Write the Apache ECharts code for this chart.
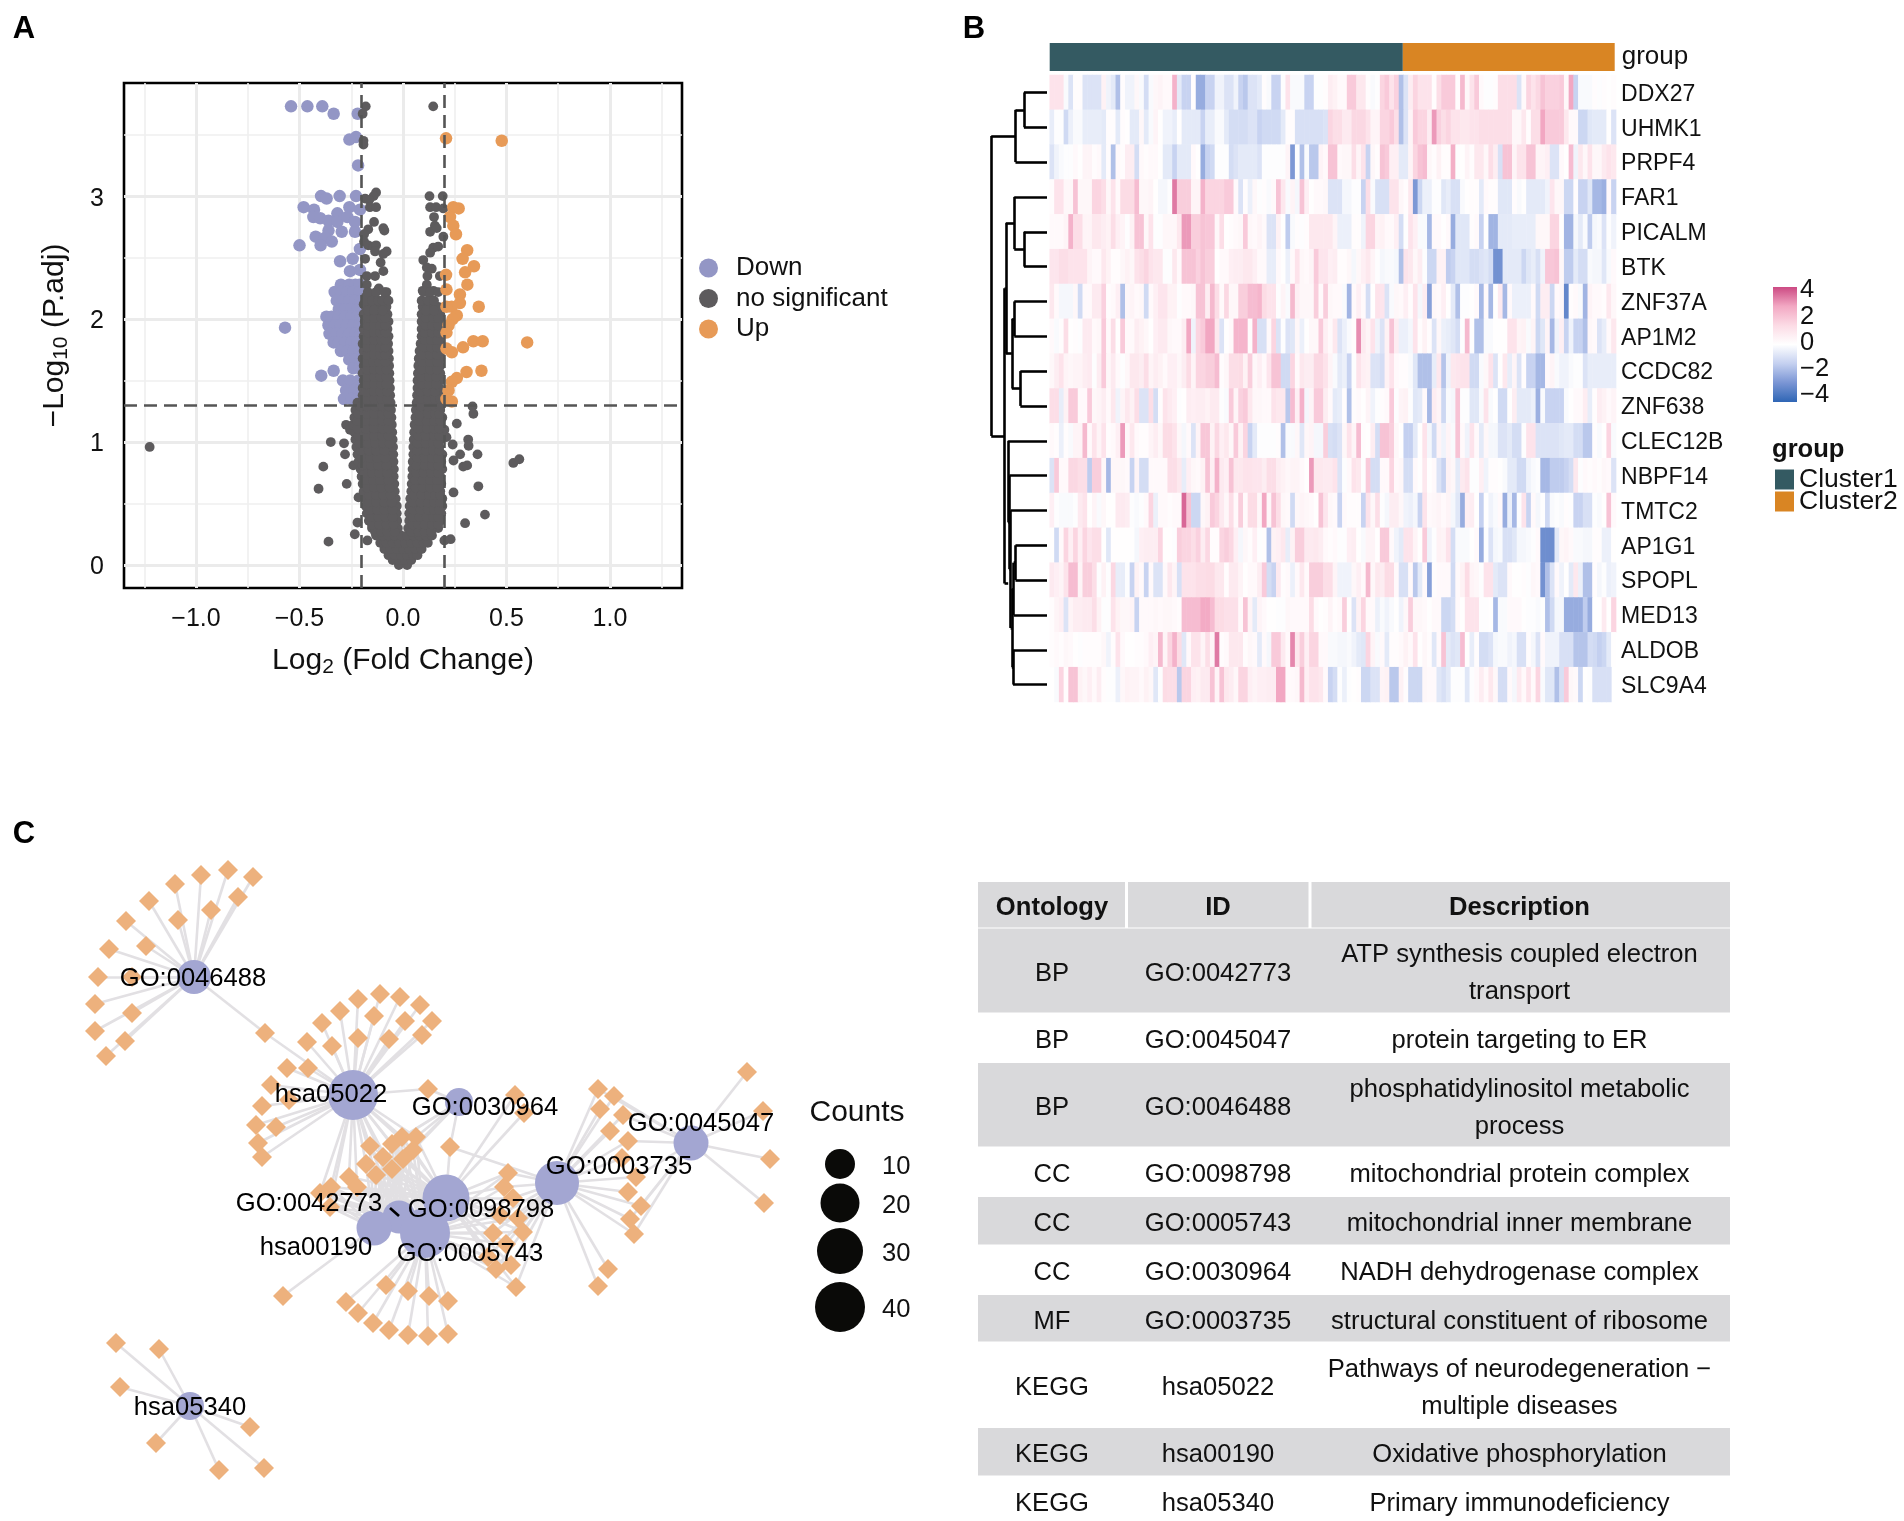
<!DOCTYPE html>
<html><head><meta charset="utf-8">
<style>html,body{margin:0;padding:0;background:#fff;overflow:hidden}#c{width:1904px;height:1521px}</style>
<script src="https://cdn.jsdelivr.net/npm/echarts@6/dist/echarts.min.js"></script>
</head><body><div id="c"></div>
<script>
// ---------- Panel A: volcano values ----------
const downPts=[[-.541,3.73],[-.462,3.73],[-.39,3.73],[-.335,3.67],[-.219,3.67],[-.227,3.48],[-.259,3.46],[-.217,3.25],[-.396,3],[-.369,2.98],[-.306,3],[-.227,3],[-.48,2.91],[-.43,2.89],[-.259,2.91],[-.208,2.89],[-.433,2.83],[-.4,2.82],[-.36,2.8],[-.317,2.86],[-.317,2.79],[-.269,2.83],[-.232,2.79],[-.296,2.71],[-.232,2.71],[-.36,2.72],[-.422,2.67],[-.377,2.66],[-.344,2.63],[-.398,2.6],[-.5,2.6],[-.208,2.57],[-.304,2.47],[-.243,2.49],[-.256,2.39],[-.208,2.4],[-.57,1.93],[-.395,1.54],[-.335,1.58],
[-.3,2.28],[-.26,2.28],[-.23,2.28],[-.21,2.28],[-.33,2.22],[-.3,2.22],[-.27,2.22],[-.24,2.22],[-.21,2.22],[-.32,2.15],[-.29,2.15],[-.26,2.15],[-.23,2.15],[-.205,2.15],[-.31,2.08],[-.28,2.08],[-.25,2.08],[-.22,2.08],[-.37,2.02],[-.345,2.02],[-.31,2.02],[-.28,2.02],[-.25,2.02],[-.22,2.02],[-.205,2.02],[-.36,1.95],[-.33,1.95],[-.3,1.95],[-.27,1.95],[-.24,1.95],[-.21,1.95],[-.355,1.88],[-.32,1.88],[-.29,1.88],[-.26,1.88],[-.23,1.88],[-.205,1.88],[-.335,1.81],[-.31,1.81],[-.28,1.81],[-.25,1.81],[-.22,1.81],[-.3,1.74],[-.27,1.74],[-.24,1.74],[-.21,1.74],[-.26,1.67],[-.23,1.67],[-.205,1.67],[-.24,1.6],[-.21,1.6],[-.29,1.5],[-.255,1.5],[-.215,1.5],[-.275,1.42],[-.235,1.42],[-.21,1.42],[-.285,1.35],[-.25,1.35],[-.22,1.35],[-.205,1.33]];
const upPts=[[.208,3.47],[.477,3.45],[.269,2.9],[.243,2.91],[.227,2.83],[.243,2.76],[.256,2.69],[.31,2.56],[.288,2.49],[.343,2.43],[.3,2.38],[.208,2.36],[.311,2.28],[.275,2.2],[.21,2.24],[.366,2.1],[.275,2.13],[.235,2.1],[.21,2.1],[.26,2.03],[.24,2],[.22,1.95],[.21,1.89],[.34,1.82],[.385,1.82],[.29,1.77],[.21,1.76],[.6,1.81],[.236,1.73],[.307,1.57],[.379,1.58],[.26,1.52],[.236,1.49],[.22,1.42],[.236,1.33],[.21,1.35]];
const graySparse=[[-.18,3.73],[.146,3.73],[-.195,3.67],[-.191,3.45],[-.191,3.42],[-.13,3.03],[-.142,3],[-.183,2.98],[-.163,2.97],[.128,3],[.192,3],[.131,2.91],[.16,2.91],[.195,2.9],[-.16,2.91],[-.13,2.91],[.15,2.83],[.154,2.76],[.131,2.71],[.163,2.74],[.195,2.67],[-.14,2.79],[-.168,2.73],[-.09,2.72],[-.095,2.74],[-.188,2.69],[-.188,2.63],[-.168,2.6],[-.143,2.59],[-.13,2.6],[-.135,2.55],[-.079,2.55],[-.095,2.53],[-.108,2.46],[-.183,2.49],[.146,2.58],[.17,2.59],[.131,2.54],[.098,2.48],[.115,2.42],[.139,2.41],[.118,2.35],[.178,2.35],[-.095,2.39],[-.135,2.35],[-.175,2.35],[-.175,2.28],[-.117,2.25],[-.08,2.22],[-.16,2.2],[-.08,2.16],[.115,2.28],[.095,2.23],[.147,2.23],[.13,2.16],[-.18,2.18],[-.14,2.15],[-.19,2.12],
[-1.224,.96],[-.275,1.14],[-.256,1.1],[-.349,1],[-.285,.99],[-.28,.9],[-.385,.8],[-.24,.81],[-.272,.66],[-.408,.62],[-.215,.55],[-.22,.345],[-.233,.25],[-.36,.19],[-.172,.2],[.336,1.29],[.34,1.23],[.26,1.15],[.2,1.1],[.21,1.04],[.24,.98],[.315,1.02],[.317,.97],[.276,.9],[.244,.85],[.36,.9],[.291,.8],[.31,.81],[.533,.83],[.562,.86],[.364,.64],[.244,.59],[.396,.41],[.3,.34],[.2,.2],[.23,.21]];
const grayRows=[
[0,[-.02,.02]],[.04,[-.05,-.02,.01,.04]],[.08,[-.07,-.04,-.01,.02,.05,.07]],[.13,[-.09,-.06,-.03,0,.03,.06,.09]],[.18,[-.11,-.08,-.05,-.02,.01,.04,.07,.1,.12]],[.24,[-.13,-.1,-.07,-.04,-.01,.02,.05,.08,.11,.14]],[.3,[-.15,-.12,-.09,-.06,-.025,.025,.06,.09,.12,.15,.17]],[.36,[-.165,-.13,-.1,-.065,-.028,.03,.065,.1,.13,.16,.18]],[.42,[-.175,-.14,-.105,-.07,-.03,.03,.065,.1,.13,.16,.185]],[.48,[-.18,-.145,-.11,-.07,-.03,.032,.07,.1,.135,.165,.19]],[.54,[-.18,-.145,-.11,-.075,-.035,.035,.07,.105,.14,.17,.19]],
[.6,[-.19,-.155,-.12,-.085,-.04,.04,.075,.11,.145,.18]],[.66,[-.195,-.16,-.125,-.09,-.042,.042,.08,.115,.15,.185]],[.72,[-.2,-.165,-.13,-.09,-.045,.045,.08,.115,.15,.18]],[.78,[-.205,-.17,-.135,-.1,-.06,-.044,.046,.085,.12,.155,.19]],[.84,[-.215,-.18,-.14,-.1,-.065,-.046,.047,.085,.12,.155,.185]],[.9,[-.22,-.185,-.145,-.105,-.07,-.047,.05,.09,.125,.16,.19]],[.96,[-.225,-.19,-.15,-.11,-.07,-.048,.05,.09,.125,.16,.175]],[1.02,[-.23,-.195,-.155,-.115,-.075,-.05,.052,.09,.13,.165,.18]],[1.08,[-.235,-.2,-.16,-.12,-.08,-.052,.054,.095,.13,.165,.185]],[1.14,[-.24,-.2,-.16,-.12,-.08,-.054,.056,.095,.13,.17,.18]],[1.2,[-.235,-.2,-.16,-.12,-.085,-.056,.06,.1,.135,.17,.19]],[1.26,[-.23,-.195,-.155,-.12,-.085,-.058,.062,.1,.135,.17,.18]],[1.32,[-.22,-.19,-.15,-.115,-.085,-.06,.066,.1,.14,.17,.19]],[1.38,[-.195,-.16,-.125,-.09,-.062,.068,.105,.14,.175]],[1.44,[-.195,-.16,-.125,-.09,-.063,.07,.105,.14,.175]],[1.5,[-.19,-.155,-.12,-.09,-.065,.07,.11,.145,.18]],[1.56,[-.195,-.16,-.125,-.095,-.066,.072,.11,.145,.18]],[1.62,[-.19,-.155,-.125,-.095,-.067,.074,.11,.15,.18]],[1.68,[-.195,-.16,-.13,-.1,-.068,.076,.115,.15,.18]],[1.74,[-.19,-.155,-.125,-.095,-.07,.08,.115,.15,.185]],[1.8,[-.195,-.16,-.125,-.095,-.072,.085,.12,.15,.18]],[1.86,[-.19,-.15,-.12,-.09,-.07,.09,.12,.155,.18]],[1.92,[-.19,-.155,-.125,-.095,-.075,.09,.125,.155,.185]],[1.98,[-.185,-.15,-.12,-.09,-.07,.09,.125,.16,.18]],[2.04,[-.19,-.16,-.125,-.09,-.075,.09,.13,.16,.18]],[2.1,[-.18,-.15,-.11,-.08,.095,.13,.17]],
[.27,[-.135,-.105,-.075,-.04,.04,.075,.105,.135]],[.33,[-.15,-.115,-.08,-.045,.045,.075,.105,.14,.17]],[.39,[-.155,-.12,-.085,-.05,.05,.08,.115,.145,.17]],[.45,[-.16,-.125,-.09,-.05,.05,.085,.12,.15,.175]],[.51,[-.165,-.13,-.09,-.055,.05,.085,.12,.15,.18]],[.57,[-.165,-.13,-.095,-.06,.055,.09,.125,.155,.18]],[.63,[-.175,-.14,-.105,-.065,.06,.095,.13,.165]],[.69,[-.18,-.145,-.11,-.07,.06,.095,.13,.165]],[.75,[-.185,-.15,-.115,-.075,.065,.1,.135,.17]],[.81,[-.195,-.155,-.12,-.08,.065,.105,.14,.17]],[.87,[-.2,-.16,-.125,-.085,.07,.105,.14,.17]],[.93,[-.205,-.165,-.13,-.09,.07,.11,.145,.175]],[.99,[-.21,-.17,-.135,-.095,-.065,.07,.11,.145,.17]],[1.05,[-.215,-.175,-.14,-.1,-.07,.075,.11,.15,.175]],[1.11,[-.22,-.18,-.14,-.1,-.07,.075,.115,.15,.175]],[1.17,[-.22,-.18,-.14,-.1,-.07,.08,.115,.15,.18]],[1.23,[-.215,-.175,-.14,-.1,-.07,.08,.12,.155,.175]],[1.29,[-.205,-.175,-.135,-.1,-.07,.085,.12,.155,.18]],[1.35,[-.19,-.175,-.14,-.105,-.075,.085,.12,.155,.18]],[1.41,[-.18,-.14,-.11,-.075,.085,.12,.155]],[1.47,[-.175,-.14,-.105,-.08,.09,.125,.16]],[1.53,[-.175,-.14,-.11,-.08,.09,.125,.16]],[1.59,[-.175,-.14,-.11,-.08,.09,.13,.165]],[1.65,[-.175,-.145,-.115,-.085,.095,.13,.165]],[1.71,[-.175,-.14,-.11,-.085,.095,.13,.165]],[1.77,[-.175,-.14,-.11,-.085,.1,.135,.165]],[1.83,[-.175,-.14,-.105,-.085,.105,.135,.165]],[1.89,[-.17,-.14,-.11,-.085,.105,.14,.17]],[1.95,[-.17,-.14,-.11,-.085,.11,.14,.17]],[2.01,[-.17,-.14,-.105,-.085,.11,.145,.17]],[2.07,[-.17,-.14,-.1,.11,.15]],[2.15,[-.18,-.15,-.12,-.1,-.07,.09,.12,.15]],[2.22,[-.17,-.13,-.09,.1,.13,.17]]];
const xMajor=[-1,-.5,0,.5,1], xMinor=[-1.25,-.75,-.25,.25,.75,1.25], yMajor=[0,1,2,3], yMinor=[.5,1.5,2.5,3.5];
const logFcCut=[-.2,.2], padjCut=1.3;

// ---------- Panel B: heatmap values ----------
const genes=['DDX27','UHMK1','PRPF4','FAR1','PICALM','BTK','ZNF37A','AP1M2','CCDC82','ZNF638','CLEC12B','NBPF14','TMTC2','AP1G1','SPOPL','MED13','ALDOB','SLC9A4'];
const DDX27=[1,1,1,-.3,-1,0,0,-1,-1,-1,-1,.4,-.5,-.8,-2,0,-.5,-.5,.2,-.3,-1.2,-.3,.2,.3,.1,.1,2.5,-.8,-1.5,-1.5,0,-2.5,-2.5,-1.5,-1.5,-.5,-.5,-1,-1,-.5,-1.5,-1.8,-1,-1,-.8,0,-.3,-1.5,-1.5,-.2,1,-.3,-.3,-.3,-1.5,-1.5,-.2,-.2,0,.6,
.4,.1,.1,1.8,1.8,.8,.8,0,-.3,-.2,1.5,1.8,1,1.6,-2,-1,.6,1.5,1,1,1,0,1.2,1.8,1.8,1.8,0,2.3,.2,1,1.8,.1,-.2,-.2,0,1.2,1.2,1.2,1.2,-1,.1,1.5,1,1.4,2,1.6,1.6,1.6,1.8,.2,2.8,-1.5,-.3,-.3,-.3,0,-.2,0,-.1,0];
const UHMK1=[-.7,-.2,-.2,-1.3,-.6,-.3,-.3,-.7,-.7,-.7,-.7,-.8,0,0,-.8,0,-.1,-.8,-.8,.2,-.8,-.3,.3,-.1,-.5,-.5,-.7,-.1,-.8,-.8,-.8,-.8,-1.5,-.7,-.7,-.3,-.3,-.8,-1.2,-1.2,-1.2,-1.2,-1,-1,-1.5,-1.3,-1.3,-1.3,-1.3,-.8,0,0,-1.1,-1.1,-1.1,-1.1,-1.1,-1.1,-1,1.5,
1.2,1.2,.7,.7,1.4,1.4,1.4,1,.3,.3,1.5,1.5,1.8,1.2,-2,-1,.3,1.8,1.5,1.5,.6,3,1.6,1.2,1.5,1,1,.8,.8,1,1,1.2,1.2,1.2,1.2,1.2,1.2,1.2,.2,.2,.8,0,1.2,1.2,2.8,1.8,1.8,1.8,1.8,.8,.1,.1,-1.4,-1.4,-.9,-.8,-.8,-.8,-.1,-1];
const PRPF4=[-1,-.5,-.3,-.2,-.2,.1,-.1,.3,.3,0,.1,-.8,0,-2,.1,0,.6,.6,-1.2,.1,0,.1,.1,-.1,-.8,-.8,-1.5,-.8,-.8,-.8,.1,-.1,-2.5,-1.5,-1.3,-.2,-.2,-.2,-1.2,-1,-.8,-.8,-.8,-.8,-1,-.2,-.2,-.2,-.2,-.2,.3,-3,-.2,-2,-.3,-1.8,-1.8,.3,.1,2,
2,.1,.2,.2,1.2,.3,1,-1.5,.2,0,2,1.8,.5,.5,-.8,-.8,.3,1.5,2,2.2,.2,0,.4,0,0,2.6,-.2,-.1,.3,0,.8,.8,.2,1.2,.6,-1.1,2,2,.3,1,1,2,2,.3,.3,.5,-1,-1,.1,-.1,2.2,-.5,.8,.2,1,.2,.2,.7,1,.8];
const FAR1=[0,1,1,.2,.2,2,.2,.2,.2,1.5,1.5,1.2,.2,1,.1,1.3,1.3,1.3,2.2,.2,.2,.3,-.1,-.4,-.4,-.2,3.5,1.7,1.7,1.7,.3,.3,2.5,1.5,1.5,1.5,1.5,1.8,1.8,.1,-1,0,-.6,.2,-.2,0,-.3,.1,2,.8,-.3,.3,-.4,2,.5,-.1,.1,.1,.2,-1,
-1,-1,-.4,-.4,-.2,-.2,-1.5,1.2,-.3,-1.1,-1.1,-1.1,1,1,.2,0,.8,-3,-1.4,-.6,-.6,-.2,-.2,-.9,-.7,-1.1,-1.1,-.3,-.1,0,0,-.8,.1,0,0,-.9,-.9,-.9,0,-.3,-.1,-.8,-.8,-.8,-.8,-.5,.9,.2,.2,-1.4,-1.4,0,-1.5,-1.5,-.9,-2.2,-2.2,-2.4,.1,-1.5];
const PICALM=[.1,.1,.1,.3,2.5,1.2,1.2,.3,.3,.8,.8,.6,.4,1.2,.5,.3,-.2,.4,2,2,.2,1,-.2,-.2,.2,.2,.2,.8,3,3,1.7,1.7,2,1.9,1.9,.2,1.2,-.1,0,.1,.2,1.8,.2,.1,.3,.1,-1,-1,.4,-.1,-1.7,-.3,0,-.2,0,.8,.8,.8,.8,.8,
.3,-.6,-.6,-.6,0,0,-.5,1.5,1.5,.3,.4,.1,.1,.5,-1.2,-.2,1,.5,-.3,-.3,-2.2,.1,.1,-.1,.1,-2.5,-.9,-.9,-.9,0,.1,-1.5,-.1,-2.3,-2.3,-.8,-.8,-.8,-.7,-.7,-.7,-.7,-.7,.2,.2,.2,1.5,1.5,-.1,-2.3,-2.3,-.4,-.8,-.3,-1.7,-.4,-.3,-1,-.2,-.5];
const BTK=[.9,.9,1.2,1.2,1,1,1,1,.3,.1,.1,.8,.4,0,0,.2,.4,.2,1,1.2,1.5,1,.8,.8,-.2,-.2,.8,.1,2,2,2,1.6,2,1.7,1.7,-.1,.1,.1,.5,.6,.6,.8,.8,.5,.1,.1,-.7,-.7,.1,-.1,-.6,.1,1,.2,.1,.3,1.8,.9,.9,.5,
.6,0,0,.2,-.4,.2,.5,.8,.3,-.2,-.4,-.3,-.3,-.4,-2,1,.8,.2,.6,-.2,-1.4,-1.4,.4,.4,-1.7,-1.5,-.9,-.9,-.9,-1.2,-1.2,-1,-.9,-1.2,-3.2,-3.2,-.8,-.8,-.8,-.8,-1.4,-.9,-.7,-1.1,-.5,1.9,1.9,2,.2,-1.7,-1.7,-.8,-1.2,-1.2,-.3,-.4,-.4,-.9,-.3,.1];
const ZNF37A=[.8,.1,-.4,-.4,-.4,.2,-1.3,.1,.1,.7,.7,1.6,0,.1,.5,-2,.2,.3,.1,.2,-1.3,.1,.5,.9,.9,.4,.4,-.2,.1,.1,.2,2,2,.6,2.3,1.2,.1,1.4,.2,.2,1.7,1.7,2.2,2.2,2.4,1.3,1,1,-.2,.3,-.3,2.3,.5,.2,.2,.2,1.7,.1,1.7,.2,
.1,.1,-.3,-2.3,.1,.5,.1,-1.2,-.1,1,.9,-1,-.3,.2,.1,.5,0,1,-.4,.6,-2.8,.2,.1,.5,-.1,-.8,-2,-.2,-.2,-.1,.1,-2.2,.1,-2.2,-.1,.7,-2.2,.1,-.6,-.6,-.6,-.6,.1,-1.3,.6,.6,-1.4,.1,.2,-3.5,0,.1,-.3,-2.3,.3,.1,.1,0,.8,.2];
const AP1M2=[.1,-.3,0,1.2,-.1,0,-.2,.7,.7,.1,.2,1.8,.1,1.2,-.1,1.8,.1,.1,.6,.4,.2,-.1,.5,.7,.7,.2,.1,.1,.6,2.8,-.5,1.5,1.8,2.8,2.8,.8,-1,-.1,.1,2.4,2.4,2.4,0,2.5,-1.1,-1.1,.1,1.5,-1,-.2,-1,-.9,.2,-.6,-.1,.2,.2,1.8,.5,.1,
.8,-1,-.6,-.3,0,3.2,.7,.3,1,-.5,-1,.4,2,.6,-.6,-.6,-.4,1,0,.4,0,-1,.2,-.6,-.7,-.9,-1.2,-.2,2.3,-.2,-2,-2,-.3,-.3,-.1,-.1,-.1,1,1,.3,.4,-.3,.3,-1.4,-.9,.3,-2.2,-.5,.5,-1.5,-.5,-1.5,-1.5,-2,.2,.1,-1,-.7,.1,.8];
const CCDC82=[.2,.6,1,.3,.2,.3,.3,.6,.7,-.2,.6,1.8,.2,.7,.1,-.2,.2,.8,.8,.6,1.2,.3,.6,.4,.1,.5,.5,.2,.6,1.3,.3,1.5,1.5,1.7,1.7,2.2,0,.2,1.2,1.2,1.3,.4,1.7,.2,.5,.1,.9,2,2,-1.3,-1.3,1.5,.1,.8,.6,.6,1.4,1.4,1,.3,
-.3,-.8,-.6,-1.5,-.2,1,.5,.4,-1,-1,-1.2,.4,1,.1,0,0,-.3,-.9,-2,-2,-2,-.7,.8,-1.9,-.5,.8,.9,1,1,-1.3,-1.3,-.3,.2,1,-1,-.1,.8,-.7,.3,-1,0,-1.5,-1.5,-2.2,-2.2,.1,.3,-.3,-.5,-.5,-.3,-.2,-.2,-1,-.7,-.7,-.7,-.7,-.7,-.7];
const ZNF638=[1.2,1.2,-.7,.4,1.8,1.8,.1,.1,1.8,.2,.3,.6,.1,.8,-.5,.3,.8,.4,1.2,-1,-1,1.2,-1.2,0,1,.7,.5,-.2,-.1,.6,.5,.6,.6,.4,.7,.7,-.2,-.3,1.8,.3,1.6,1.8,.8,.2,.2,.1,.1,1,.8,.8,-1.8,2.2,.5,2.5,-.4,.3,1.8,1.8,.6,.1,
-.8,-.7,0,-2,0,.1,-.1,.3,-.5,-.2,0,.1,1.8,-.2,.3,.4,-.2,-.9,-.8,.1,-2.2,.6,.3,-1.4,-.3,-.4,2,-.2,-.2,-.9,-.9,-.3,1,-.3,-.1,-1.3,-1.3,-.1,.6,-.8,-.8,-.8,-.6,-2.4,-.3,-1.5,-1.5,-1.5,-1.5,-.3,-.1,.1,.1,.6,-.7,0,.6,.4,.1,.3];
const CLEC12B=[.1,0,-.6,0,-.3,.3,.3,2.3,.1,1,.3,1,0,.1,.5,3,.2,.8,.1,0,0,.3,.6,.2,1.3,1.3,1,.2,-.4,.1,-1,.3,1.9,1.9,.4,1.4,.5,.8,.2,1.8,.4,1.5,-1.5,-.8,-.2,-.2,-.2,-.2,0,-2,-.3,-.3,.2,-.9,.2,.3,-.4,-.4,1.7,-1.1,
-1.2,-1,.2,1,.3,2.2,0,-.1,.6,-1.2,2,2,1.7,.2,-.1,-1.6,-1.6,-.8,-.1,1,-.4,-1.3,.3,-.5,.3,-.3,2,.1,-.5,1,.1,-.8,.2,-.4,-.4,-1,-1,-.8,-1.2,-1.2,-.2,1,1,-1,-1,-1,-1,-1,-.9,-.8,-.8,-1.2,-1.2,-1.8,-1.8,0,-.3,-.1,1.5,-.3];
const NBPF14=[-1,1.8,.1,.1,1.4,1.4,1.2,1.2,-1.7,1.7,1.7,.2,-2.2,.2,.2,.2,.1,-1.5,.3,-1.2,-1.2,.1,.1,.1,.1,1.2,1.2,.8,-.7,.5,.2,.1,.4,2,.5,2.5,.7,.5,2,.8,.8,1,1,.9,.9,.6,1.2,1.2,.6,.4,.2,.3,.3,.1,-.1,3,.8,.8,.7,.7,
1,-1,-.2,.1,1,.8,-.2,1.8,-1.2,-1.2,.1,.1,1.5,.1,.2,-1.2,-1.2,.1,-.1,.8,-.1,.1,-1,-1.5,.4,.2,-.8,.7,1,-.2,-.2,.5,-.5,0,0,-.1,-.3,-.8,-.8,-1.3,-1.3,-.5,-.3,-.2,-2.2,-2.2,-1.7,-1.7,-1.7,-1.5,-1.2,.8,-.2,.1,0,.1,0,.2,.1,-1];
const TMTC2=[.5,-.2,-.3,-.3,-.3,-.2,.7,1,-.1,.3,-.3,.2,-.1,-.1,.7,.7,.6,-.2,-.3,-.2,.1,1.5,-.6,.1,.1,0,.1,.1,3.8,2,-1.4,-1.4,.2,.4,1.8,1.5,.7,.2,1.2,.1,1.7,.1,1.3,1.3,.2,2.8,.2,2,1.2,.2,.1,-1.3,.2,.3,.2,.1,-.1,2,.9,.2,
.1,-1.5,.1,0,0,0,-1.5,1,.2,1.2,-.2,-.4,.6,.6,.2,-.5,-.6,-.4,-1.5,1,.1,.2,.3,.1,.3,-.4,-.9,-2.5,.5,.6,-.1,-1.6,-.1,-.5,-.3,.1,-2.5,-.6,-2.2,-.2,1,-1.5,.1,-.4,-.2,-1.3,-.3,-.2,-.3,0,-.2,-1.5,-1.5,-1.1,-1.1,-.2,-.3,-.1,2,.1];
const AP1G1=[-.1,-1.3,.1,1.5,.5,1.5,.5,1.5,.9,1.2,1.2,-.1,-.9,-.1,-.1,-.1,-.1,-.1,-.4,.5,.6,.6,.6,1.5,-.1,-.1,-.2,1.7,1.5,1.5,1.2,1.6,.6,1.4,0,0,1.5,1.7,1.4,.5,-.4,.2,0,.5,-.2,0,-2,.4,.5,.8,-.7,.4,1.7,1.7,.7,.7,.8,.6,.1,0,
.1,-.2,-.2,.5,.6,-.1,-.3,.3,.3,-.1,1.8,1.8,.1,-.5,-.8,1,1,.3,-.1,1.8,-.5,-.2,.4,.3,1,-1.2,-.3,-.3,-.3,-.1,.1,-2.5,-.2,-1,-.4,-.3,-1.1,-1.1,-.9,-.4,-.4,-.3,-.2,.1,-3.3,-3.3,-3.3,-.8,.2,.3,.1,-.3,-.3,-.4,-.4,0,0,-.6,-.6,-.1];
const SPOPL=[.7,.5,.3,1,2.2,2.2,.3,1.7,1.7,1.2,-.2,.4,-.2,1.4,-.7,-.7,-.2,-1.5,.4,.1,-1.5,.1,-1,-1,.1,.8,.3,-1.1,1,1,1,1.2,1.2,1.3,1.3,.8,.8,0,.7,.7,.3,-.1,.1,.1,.6,1.8,-1.2,-1.5,.7,0,.1,-.6,.1,.8,.1,1.7,1.7,1.7,1.2,1.2,
.3,-.5,-.5,-.5,.2,.5,.1,2.3,.2,.8,.6,1.3,1.3,.1,-1.1,-1.1,.1,-1.8,-.8,.1,-2.8,0,.1,.1,.1,-1.3,.1,.4,1.3,.3,.2,-.2,1,1,-.8,-1,-1,.1,-.1,-.1,0,-.2,.2,.1,-3.2,-2,-1,.1,-.5,-.1,-.8,.8,-.6,-2,-2,0,-.4,-.2,-.6,-.5];
const MED13=[0,.3,.5,-1,.3,.6,.6,.7,.7,1.2,.4,-.2,-.2,1,.4,.2,.2,.3,-1.5,.1,.1,.1,.2,.1,.2,.2,.1,0,2.2,2.2,2.2,2.2,2.7,2.7,2.2,1.3,1.3,1.1,1.1,1.1,.1,2,.3,-.8,.3,.1,-.1,-.1,-.2,-.2,.2,.1,.1,.1,.1,1.3,.1,-.1,0,.3,
0,.1,1.7,-.1,-1,.4,1.5,.1,.1,-.6,-.3,-.5,-.3,-.1,-.5,.2,1.7,.2,.2,.1,-.1,.1,.1,-1.4,-1.4,-1.2,.1,-.1,1,1,1,-.2,-.2,-.1,-2.2,-.3,-.3,.1,.1,.1,-.1,-.2,-.2,-.3,-.2,-2,-1.3,-.4,-.4,-2.5,-2.5,-2.5,-2.5,-1.7,-2.5,-.1,-.1,.7,-.1,1.5];
const ALDOB=[0,.1,0,.2,.1,-.1,-.2,0,0,0,0,.2,-.5,0,1,.1,-.1,-.1,0,0,.1,.5,.3,2.3,.3,1.5,2.5,1.3,-.9,.1,1,1,.3,1.2,.3,3.5,0,.1,.8,.8,.8,0,.2,.1,-.8,.1,-.4,1.8,1.8,.7,.1,3.3,.8,1.7,.5,1.5,1.5,.1,.1,-.3,
-.3,-.4,-.4,-.3,-.5,-.8,-.9,1.5,.3,-.3,.1,-.8,0,0,.1,.4,.1,1,-.1,.2,0,-.9,.1,2,-.8,-1,-.9,2.2,-.1,-.7,0,-1.2,-1.2,-1,-.4,-.3,-.3,-.5,-.4,-1.1,-1.1,0,-.4,-1,.1,-.5,-.5,-.5,-1.1,-1.1,-1.1,-1.9,-1.9,-1.9,-1.2,-1.3,-1.6,-1.4,-.8,-.1];
const SLC9A4=[null,-.3,1.5,0,2,2,.4,.2,.5,.1,.6,0,-.2,-.2,-.6,.2,.4,.3,.3,.1,.4,.2,-.9,-.2,1.3,1.2,1.2,-1.8,1.5,1.5,.5,.4,.7,.7,2,.3,2,.8,.6,.2,1.5,1.5,.5,.3,.5,.5,.6,.6,2.8,2.8,.1,.1,.2,2.3,.5,1,1,.8,.1,-1.5,
-1.2,-.2,-.6,-.2,-.1,0,-1.4,-1.4,-1,-1,.3,.4,-1.8,-1.8,.4,0,-1.4,-1.4,-1.4,.2,.1,.1,-.9,-1.1,-.8,-.2,-.2,-.2,-.9,-.2,.1,.6,.1,.8,.2,-1.2,-1.2,.1,-.4,.7,.1,1,.1,1.5,-.3,-.9,-.9,-2,-1.1,1.8,.2,.1,-1.4,-.1,-.2,-1.1,-1.1,-1.1,-1.1];
const heatRows=[DDX27,UHMK1,PRPF4,FAR1,PICALM,BTK,ZNF37A,AP1M2,CCDC82,ZNF638,CLEC12B,NBPF14,TMTC2,AP1G1,SPOPL,MED13,ALDOB,SLC9A4];
const sampleIds=[...Array(120).keys()];
const clusterCounts=[75,45];
const colorTicks=[-4,-2,0,2,4];
const heatColors=['#2f66b5','#7a95d4','#c4d0f0','#ffffff','#fcdbe5','#f2a8c3','#cc4a83'];
// dendrogram: [height, childA, childB, optional row of attachment]; leaf = gene row
const dendro=[68,[108,[122,0,1],2],[90,[92,[106,3,[122,4,5]],[102,[106,6,7],[116,8,9]]],[96,10,[98,11,[100,12,[102,[105,[108,13,14],15],[104,16,17]]]],14.1]]];

// ---------- Panel C: network ----------
const hubNames=['GO:0046488','hsa05022','GO:0030964','GO:0098798','GO:0042773','hsa00190','GO:0005743','GO:0003735','GO:0045047','hsa05340'];
const hubXY=[[194,977],[353,1095],[459,1102],[446,1198],[399,1217],[374,1228],[425,1233],[557,1183],[691,1143],[190,1406]];
const hubSize=[34,50,28,47,33,35,50,44,35,28];
const labelXY=[[193,977],[331,1093],[485,1106],[481,1208],[309,1202],[316,1246],[470,1252],[619,1165],[701,1122],[190,1406]];
const groups46488=[[228,870],[253,877],[201,875],[175,884],[238,897],[149,901],[211,910],[178,920],[126,921],[146,946],[109,949],[98,977],[95,1004],[132,1013],[95,1031],[125,1041],[106,1056],[132,977]];
const shared0_1=[[265,1033]];
const leaves5022=[[358,999],[380,994],[400,997],[420,1005],[432,1021],[340,1011],[374,1016],[405,1021],[322,1023],[358,1038],[389,1039],[422,1035],[307,1042],[332,1046],[287,1068],[308,1068],[271,1085],[262,1106],[289,1100],[256,1125],[276,1127],[258,1143],[262,1157]];
const shared1_2=[[428,1089]];
const centerTop=[[392,1144],[402,1137],[416,1137],[413,1150],[403,1159],[392,1169]];
const centerLow=[[370,1146],[383,1157],[366,1164],[376,1175],[349,1177],[357,1187],[331,1187],[320,1193],[330,1207]];
const leaf450=[[450,1147]];
const leaves98798=[[515,1095],[524,1113]];
const rightCluster=[[508,1173],[504,1187],[513,1198],[500,1215],[518,1218],[493,1233],[523,1232],[506,1244],[488,1257],[511,1265],[496,1269],[516,1287]];
const leaves3735=[[600,1109],[610,1131],[622,1158],[628,1192],[608,1269],[598,1286]];
const shared7_8=[[598,1089],[614,1096],[623,1115],[628,1141],[636,1177],[641,1206],[630,1219],[634,1234]];
const leaves45047=[[747,1072],[763,1111],[770,1159],[764,1203]];
const leaves5743=[[386,1285],[408,1291],[429,1296],[448,1301],[346,1302],[358,1313],[373,1323],[389,1330],[408,1335],[428,1336],[448,1334]];
const leaves190=[[283,1296]];
const leaves5340=[[116,1343],[159,1349],[120,1387],[250,1427],[156,1443],[264,1468],[219,1470]];
const leafGroups=[[groups46488,[0]],[shared0_1,[0,1]],[leaves5022,[1]],[shared1_2,[1,2]],[centerTop,[1,2,3,4,5,6]],[centerLow,[1,3,4,5,6]],[leaf450,[2,3,7]],[leaves98798,[3]],[rightCluster,[3,6,7]],[leaves3735,[7]],[shared7_8,[7,8]],[leaves45047,[8]],[leaves5743,[6]],[leaves190,[5]],[leaves5340,[9]]];
const countSizes=[10,20,30,40];
const countXY=[[840,1164],[840,1203],[840,1251],[840,1307]];
const countDiam=[30,39,46,50];

// ---------- Table ----------
const tableHead=['Ontology','ID','Description'];
const tableRows=[
['BP','GO:0042773',['ATP synthesis coupled electron','transport']],
['BP','GO:0045047',['protein targeting to ER']],
['BP','GO:0046488',['phosphatidylinositol metabolic','process']],
['CC','GO:0098798',['mitochondrial protein complex']],
['CC','GO:0005743',['mitochondrial inner membrane']],
['CC','GO:0030964',['NADH dehydrogenase complex']],
['MF','GO:0003735',['structural constituent of ribosome']],
['KEGG','hsa05022',['Pathways of neurodegeneration \u2212','multiple diseases']],
['KEGG','hsa00190',['Oxidative phosphorylation']],
['KEGG','hsa05340',['Primary immunodeficiency']]];
const rowEdges=[928.5,1014,1063,1148,1197,1246,1295,1343,1428,1477,1526];
const colEdges=[978,1126.5,1310,1730];
const colCenter=[1052,1218,1519.5];

// ---------- builders ----------
const FONT='"Liberation Sans",Arial,sans-serif';
const INK='#111';
const grayPts=graySparse.slice();
grayRows.forEach(([y,xs])=>xs.forEach(x=>grayPts.push([x,y])));
const heatData=[];
heatRows.forEach((r,i)=>r.forEach((v,j)=>{if(v!==null&&j<120)heatData.push([j,i,v]);}));

// graph nodes and links
const nodes=[],links=[];
hubNames.forEach((n,i)=>nodes.push({name:n,value:hubXY[i],symbol:'circle',symbolSize:hubSize[i],itemStyle:{color:'#a3a6d2'}}));
let leafId=0;
const leafNodes=[];
leafGroups.forEach(([pts,hubs])=>pts.forEach(p=>{
  const idx=hubNames.length+leafNodes.length;
  leafNodes.push({name:'leaf'+(leafId++),value:p,symbol:'diamond',symbolSize:20,itemStyle:{color:'#edb17d'}});
  hubs.forEach(h=>links.push({source:h,target:idx}));
}));
const allNodes=nodes.concat(leafNodes);

// dendrogram segments
const rowH=627/18, rowTop=75, leafX=1047;
const segs=[];
function walk(n){
  if(typeof n==='number')return {x:leafX,y:rowTop+rowH*(n+.5)};
  const a=walk(n[1]),b=walk(n[2]);const hx=950+n[0]/1.65;
  segs.push([[hx,a.y],[a.x,a.y]]);segs.push([[hx,b.y],[b.x,b.y]]);segs.push([[hx,a.y],[hx,b.y]]);
  const attach=n[3]!==undefined?rowTop+rowH*(n[3]+.5):(a.y+b.y)/2;
  return {x:hx,y:attach};
}
walk(dendro);

// graphics: table, panel letters, colour bar, text legends
const gfx=[];
const YSH=2.5;
function txt(s,x,y,opt){gfx.push({type:'text',silent:true,style:Object.assign({text:s,x:x,y:y+YSH,font:'25.6px '+FONT,fill:INK,textAlign:'center',textVerticalAlign:'middle'},opt||{})});}
function rect(x,y,w,h,c){gfx.push({type:'rect',silent:true,shape:{x:x,y:y,width:w,height:h},style:{fill:c}});}
const TBL='#d9d9db';
for(let c=0;c<3;c++){rect(colEdges[c]+(c?1.5:0),882,colEdges[c+1]-colEdges[c]-(c?1.5:0)-(c<2?1.5:0),45.5,TBL);
  txt(tableHead[c],colCenter[c],905,{font:'bold 25.6px '+FONT});}
tableRows.forEach((r,i)=>{
  const t=rowEdges[i],b=rowEdges[i+1],cy=(t+b)/2;
  if(i%2===0)rect(colEdges[0],t,colEdges[3]-colEdges[0],b-t-1.5,TBL);
  txt(r[0],colCenter[0],cy);txt(r[1],colCenter[1],cy);
  const ls=r[2];const sp=37;
  ls.forEach((l,k)=>txt(l,colCenter[2],cy+(k-(ls.length-1)/2)*sp));
});
[['A',24,26.5],['B',974,26.5],['C',24,831.5]].forEach(a=>txt(a[0],a[1],a[2],{font:'bold 31px '+FONT,fill:'#000'}));
txt('Counts',857,1110,{font:'30px '+FONT});
countSizes.forEach((c,i)=>txt(String(c),882,countXY[i][1],{textAlign:'left'}));
txt('group',1772,447,{textAlign:'left',font:'bold 25.6px '+FONT});
gfx.push({type:'rect',silent:true,shape:{x:1773,y:287,width:24,height:115},style:{fill:{type:'linear',x:0,y:1,x2:0,y2:0,colorStops:heatColors.map((c,i)=>({offset:i/(heatColors.length-1),color:c}))}}});

const mkVal=(arr,style)=>arr.map(v=>({xAxis:v,lineStyle:style}));
const mkHor=(arr,style)=>arr.map(v=>({yAxis:v,lineStyle:style}));
const gMaj={color:'#ebebeb',width:3,type:'solid'},gMin={color:'#efefef',width:1.6,type:'solid'};
const dash={color:'#555',width:2.6,type:[13,7]};

const option={
 animation:false,backgroundColor:'#fff',
 textStyle:{fontFamily:FONT},
 graphic:gfx,
 grid:[
  {left:124,top:83,width:558,height:505,show:true,borderColor:'#000',borderWidth:2.6,backgroundColor:'#fff',z:1},
  {left:1049.7,top:43,width:565,height:28},
  {left:1049.7,top:75,width:566.4,height:627},
  {left:1773,top:287,width:24,height:115},
  {left:0,top:0,width:1904,height:1521}
 ],
 xAxis:[
  {gridIndex:0,type:'value',min:-1.348,max:1.348,axisLine:{show:false},splitLine:{show:false},
   axisTick:{show:true,length:7,customValues:xMajor,lineStyle:{color:'#000',width:2.4}},
   axisLabel:{fontSize:25,color:INK,margin:19,customValues:xMajor,formatter:v=>v.toFixed(1).replace('-','\u2212')},
   name:'Log{s|2} (Fold Change)',nameLocation:'middle',nameGap:56,
   nameTextStyle:{fontSize:30,color:INK,rich:{s:{fontSize:21,padding:[13,0,0,0]}}}},
  {gridIndex:1,type:'value',min:0,max:120,show:false},
  {gridIndex:2,type:'category',data:sampleIds,show:false},
  {gridIndex:3,type:'value',show:false},
  {gridIndex:4,type:'value',min:0,max:1904,show:false}
 ],
 yAxis:[
  {gridIndex:0,type:'value',min:-.187,max:3.92,axisLine:{show:false},splitLine:{show:false},
   axisTick:{show:true,length:7,customValues:yMajor,lineStyle:{color:'#000',width:2.4}},
   axisLabel:{fontSize:25,color:INK,margin:20,verticalAlign:'top',lineHeight:5,customValues:yMajor,formatter:v=>String(v)},
   name:'\u2212Log{s|10} (P.adj)',nameLocation:'middle',nameGap:52,
   nameTextStyle:{fontSize:30,color:INK,rich:{s:{fontSize:21,padding:[13,0,0,0]}}}},
  {gridIndex:1,type:'category',data:['group'],position:'right',axisLine:{show:false},axisTick:{show:false},
   axisLabel:{fontSize:26,color:INK,margin:7}},
  {gridIndex:2,type:'category',data:genes,inverse:true,position:'right',axisLine:{show:false},axisTick:{show:false},
   axisLabel:{fontSize:23,color:INK,margin:5,interval:0,verticalAlign:'top',lineHeight:4}},
  {gridIndex:3,type:'value',min:-4.53,max:4.25,position:'right',z:10,axisLine:{show:false},splitLine:{show:false},
   axisTick:{show:true,inside:true,length:4,customValues:colorTicks,lineStyle:{color:'#fff',width:2}},
   axisLabel:{fontSize:25.5,color:INK,margin:3,customValues:colorTicks,formatter:v=>String(v).replace('-','\u2212')}},
  {gridIndex:4,type:'value',min:0,max:1521,inverse:true,show:false}
 ],
 visualMap:{type:'continuous',seriesIndex:[3],min:-4.53,max:4.25,show:false,inRange:{color:heatColors}},
 legend:[
  {show:true,data:[{name:'Down',icon:'circle'},{name:'no significant',icon:'circle'},{name:'Up',icon:'circle'}],orient:'vertical',left:694,top:250,itemWidth:19,itemHeight:19,itemGap:4.5,
   textStyle:{fontSize:26,color:INK,lineHeight:26,padding:[0,0,0,13]},selectedMode:false},
  {show:true,data:['Cluster1','Cluster2'],orient:'vertical',left:1770,top:461,itemWidth:19,itemHeight:20,itemGap:-5,icon:'rect',
   textStyle:{fontSize:26.5,color:INK,lineHeight:20,padding:[0,0,0,0]},selectedMode:false}
 ],
 series:[
  {name:'Down',type:'scatter',xAxisIndex:0,yAxisIndex:0,data:downPts,symbolSize:12.5,z:3,itemStyle:{color:'#9396c5',opacity:1},
   markLine:{silent:true,symbol:'none',label:{show:false},z:2,animation:false,
    data:mkVal(xMinor,gMin).concat(mkHor(yMinor,gMin),mkVal(xMajor,gMaj),mkHor(yMajor,gMaj))}},
  {name:'no significant',type:'scatter',xAxisIndex:0,yAxisIndex:0,data:grayPts,symbolSize:9.8,z:4,itemStyle:{color:'#5d5b5d',opacity:1}},
  {name:'Up',type:'scatter',xAxisIndex:0,yAxisIndex:0,data:upPts,symbolSize:12.5,z:5,itemStyle:{color:'#e79a57',opacity:1},
   markLine:{silent:true,symbol:'none',label:{show:false},z:6,animation:false,
    data:mkVal(logFcCut,dash).concat(mkHor([padjCut],dash))}},
  {type:'heatmap',xAxisIndex:2,yAxisIndex:2,data:heatData,progressive:0,emphasis:{disabled:true}},
  {name:'Cluster1',type:'bar',xAxisIndex:1,yAxisIndex:1,stack:'g',barWidth:'100%',data:[clusterCounts[0]],itemStyle:{color:'#345a62'}},
  {name:'Cluster2',type:'bar',xAxisIndex:1,yAxisIndex:1,stack:'g',barWidth:'100%',data:[clusterCounts[1]],itemStyle:{color:'#d98523'}},
  {type:'lines',coordinateSystem:'cartesian2d',xAxisIndex:4,yAxisIndex:4,polyline:false,silent:true,data:segs.map(s=>({coords:s})),lineStyle:{color:'#000',width:2.6,opacity:1}},
  {type:'graph',coordinateSystem:'cartesian2d',xAxisIndex:4,yAxisIndex:4,layout:'none',silent:true,data:allNodes,links:links,
   lineStyle:{color:'#e2e0e3',width:2.6,opacity:1,curveness:0},label:{show:false},emphasis:{disabled:true},z:6},
  {type:'scatter',xAxisIndex:4,yAxisIndex:4,silent:true,symbolSize:1,itemStyle:{color:'rgba(0,0,0,0)',opacity:1},z:8,
   data:hubNames.map((n,i)=>({name:n,value:labelXY[i]})),
   label:{show:true,position:'inside',offset:[0,2],opacity:1,formatter:'{b}',fontSize:25.6,color:'#000',fontFamily:FONT}},
  {type:'lines',coordinateSystem:'cartesian2d',xAxisIndex:4,yAxisIndex:4,silent:true,z:8,data:[{coords:[[390,1208],[399,1216]]}],lineStyle:{color:'#000',width:2.6,opacity:1}},
  {type:'scatter',xAxisIndex:4,yAxisIndex:4,silent:true,z:8,data:countXY,symbolSize:(v,p)=>countDiam[p.dataIndex],itemStyle:{color:'#0a0a08',opacity:1}}
 ]
};
const chart=echarts.init(document.getElementById('c'),null,{renderer:'canvas',width:1904,height:1521});
chart.setOption(option);
</script></body></html>
